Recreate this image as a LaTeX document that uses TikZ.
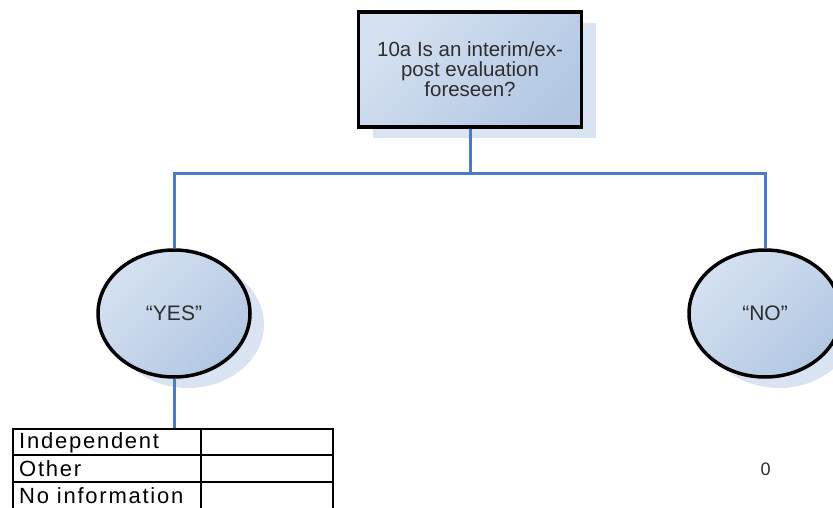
\documentclass[tikz,border=0pt]{standalone}
\usepackage{fontspec}
\setmainfont{Liberation Sans}
\newfontfamily\tabfont[LetterSpace=8]{Liberation Sans}
\usetikzlibrary{shapes.geometric,shadows}
\definecolor{fillA}{HTML}{D5E1F1}
\definecolor{fillB}{HTML}{B3C7E3}
\definecolor{shc}{HTML}{DAE3F1}
\definecolor{conc}{HTML}{4A7CC4}
\definecolor{txt}{HTML}{2E2E2E}
\tikzset{
  nodefill/.style={top color=fillA, bottom color=fillB, shading angle=45,
    draw=black, line width=3.5pt, text=txt,
    general shadow={fill=shc, shadow xshift=14pt, shadow yshift=-11pt}},
  qbox/.style={nodefill, rectangle, minimum width=223pt, minimum height=115pt,
    inner sep=0pt, align=center, font=\fontsize{20.5}{20}\selectfont},
  answer/.style={nodefill, ellipse, minimum width=152pt, minimum height=127pt,
    inner sep=0pt, font=\fontsize{21}{24}\selectfont},
  conn/.style={draw=conc, line width=3pt},
  tabline/.style={draw=black, line width=1.6pt},
  cell/.style={anchor=west, inner sep=0pt, font=\tabfont\fontsize{22}{24}\selectfont, text=black},
}
\begin{document}
\begin{tikzpicture}[x=1pt,y=-1pt]
\useasboundingbox (0,0) rectangle (833,508);
\clip (0,0) rectangle (833,508);
% nodes
\node[qbox] (box) at (470,69.5) {10a Is an interim/ex-\\post evaluation\\foreseen?};
\node[answer] (yes) at (174,313.5) {``YES''};
\node[answer] (no) at (765,313.5) {``NO''};
\coordinate (bus) at (470,173.5);
\coordinate (tabtop) at (174,429);
% connectors
\draw[conn] (box.south) -- (box.south |- bus);
\draw[conn] (yes.north) -- (yes.north |- bus) -- (no.north |- bus) -- (no.north);
\draw[conn] (yes.south) -- (tabtop);
% table
\draw[tabline] (13,429) rectangle (333,510);
\draw[tabline] (13,455) -- (333,455);
\draw[draw=black, line width=2.6pt] (13,482) -- (333,482);
\draw[tabline] (201,429) -- (201,510);
\node[cell] (c1) at (19,443) {Independent};
\node[cell] (c2) at (19,469) {Other};
\node[cell] (c3) at (19,496) {No information};
\node[text=txt, font=\fontsize{18}{20}\selectfont] (zero) at (765.5,469.5) {0};
\end{tikzpicture}
\end{document}
